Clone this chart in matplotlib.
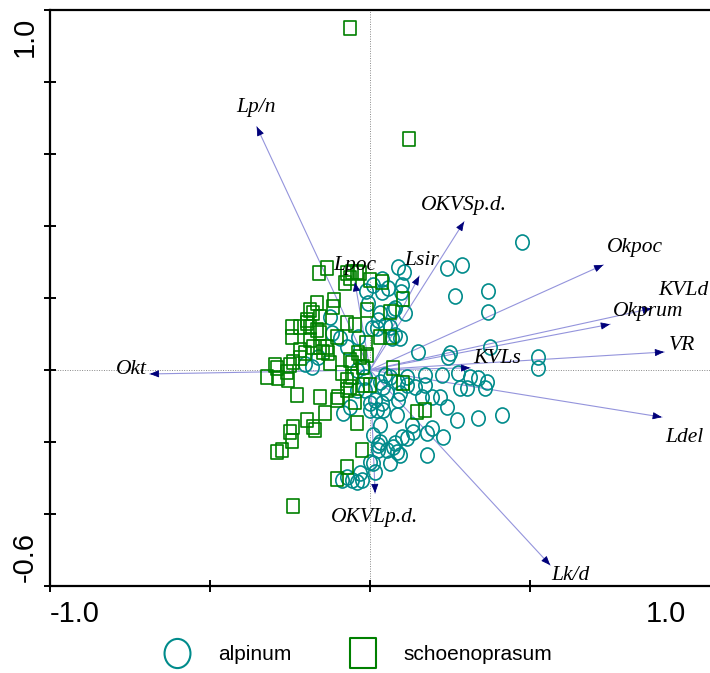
import matplotlib
matplotlib.use("Agg")
import matplotlib.pyplot as plt
from matplotlib.lines import Line2D
from matplotlib.path import Path
from matplotlib.transforms import Affine2D
import numpy as np

# ---------------- data ----------------
alpinum_x = [0.475, 0.241, 0.288, 0.088, 0.106, 0.038, 0.100, 0.369, 0.266, 0.056,
             -0.013, 0.009, 0.038, 0.078, 0.031, 0.025, 0.063, 0.094, 0.069, 0.022,
             0.006, -0.006, -0.125, -0.119, -0.094, -0.038, -0.072, -0.022, -0.041, -0.203,
             -0.163, -0.181, 0.369, 0.109, 0.072, 0.047, 0.078, 0.150, 0.250, 0.244,
             0.375, 0.525, 0.525, 0.047, 0.116, 0.172, 0.225, 0.275, 0.313, 0.338,
             0.366, 0.359, 0.281, 0.303, 0.172, 0.194, 0.219, 0.163, 0.241, 0.272,
             0.338, 0.413, 0.088, 0.038, 0.041, 0.084, 0.131, 0.194, 0.228, 0.178,
             0.100, 0.116, 0.078, 0.025, 0.053, 0.084, 0.094, 0.178, 0.031, 0.063,
             0.009, 0.016, -0.025, 0.000, -0.016, 0.000, 0.022, 0.134, 0.072, 0.031,
             0.009, 0.025, 0.000, -0.031, -0.072, -0.041, -0.088, -0.056, -0.016, 0.041,
             0.063, 0.088, 0.116, -0.084, 0.031, 0.141, 0.053, 0.094, 0.016, -0.041,
             -0.063, 0.097]
alpinum_y = [0.356, 0.283, 0.292, 0.286, 0.272, 0.253, 0.236, 0.219, 0.206, 0.228,
             0.219, 0.236, 0.217, 0.172, 0.158, 0.139, 0.119, 0.089, 0.089, 0.117,
             0.117, 0.186, 0.147, 0.103, 0.089, 0.092, 0.064, 0.008, 0.000, 0.017,
             0.036, 0.008, 0.161, 0.158, 0.167, 0.125, 0.097, 0.050, 0.047, 0.036,
             0.064, 0.036, 0.006, -0.014, -0.019, -0.014, -0.014, -0.008, -0.019, -0.022,
             -0.033, -0.050, -0.050, -0.050, -0.042, -0.075, -0.075, -0.075, -0.103, -0.139,
             -0.133, -0.125, -0.083, -0.092, -0.111, -0.125, -0.153, -0.161, -0.186, -0.175,
             -0.186, -0.189, -0.203, -0.208, -0.222, -0.228, -0.236, -0.236, -0.153, -0.258,
             -0.258, -0.283, -0.306, -0.111, -0.056, -0.092, -0.111, -0.172, -0.214, -0.200,
             -0.181, -0.222, -0.256, -0.286, -0.297, -0.311, -0.306, -0.306, -0.019, -0.047,
             -0.019, -0.033, -0.042, -0.119, -0.033, -0.047, -0.064, -0.064, -0.083, -0.056,
             -0.103, 0.217]

schoeno_x = [-0.063, 0.122, -0.241,
             -0.159, -0.134, -0.072, -0.056, -0.041, -0.078, -0.063, -0.031, 0.000, 0.038,
             0.103, -0.113, -0.166, -0.116, -0.009, -0.188, -0.197, -0.178, -0.156, -0.244,
             -0.219, -0.188, -0.166, -0.197, -0.244, -0.156, -0.103, -0.072, -0.047, 0.031,
             0.063, 0.063, -0.013, -0.188, -0.178, -0.156, -0.134, -0.219, -0.147, -0.131,
             -0.203, -0.219, -0.241, -0.250, -0.297, -0.291, -0.038, -0.009, -0.031, -0.056,
             -0.125, -0.063, -0.022, -0.322, -0.288, -0.259, -0.256, -0.228, -0.156, -0.100,
             -0.088, -0.056, -0.022, -0.072, -0.063, 0.072, 0.103, 0.000, -0.072, -0.103,
             -0.047, -0.141, -0.197, -0.178, -0.241, -0.250, -0.244, -0.172, -0.041, 0.147,
             0.172, -0.291, -0.275, -0.025, -0.072, -0.103]
schoeno_y = [0.950, 0.642, -0.378,
             0.269, 0.283, 0.269, 0.272, 0.272, 0.242, 0.256, 0.269, 0.250, 0.244,
             0.197, 0.194, 0.186, 0.175, 0.167, 0.167, 0.139, 0.158, 0.147, 0.119,
             0.119, 0.119, 0.111, 0.131, 0.092, 0.103, 0.092, 0.131, 0.125, 0.092,
             0.092, 0.161, 0.075, 0.083, 0.064, 0.064, 0.064, 0.056, 0.050, 0.047,
             0.047, 0.033, 0.022, 0.014, 0.014, 0.006, 0.047, 0.042, 0.036, 0.019,
             0.019, 0.028, 0.008, -0.019, -0.022, -0.006, -0.028, -0.069, -0.075, -0.075,
             -0.008, -0.019, -0.042, -0.028, -0.047, 0.006, -0.036, -0.042, -0.056, -0.083,
             -0.089, -0.119, -0.139, -0.158, -0.158, -0.172, -0.197, -0.167, -0.147, -0.117,
             -0.111, -0.228, -0.222, -0.222, -0.269, -0.303]

var_names = ["Lp/n", "Okt", "OKVSp.d.", "Okpoc", "KVLd", "Okprum", "VR",
             "KVLs", "Ldel", "Lk/d", "OKVLp.d.", "Lsir", "Lpoc"]
var_x = [-0.354, -0.688, 0.294, 0.729, 0.880, 0.750, 0.919,
         0.313, 0.912, 0.563, 0.016, 0.154, -0.047]
var_y = [0.676, -0.011, 0.412, 0.292, 0.171, 0.127, 0.050,
         0.006, -0.131, -0.542, -0.342, 0.261, 0.244]

group_labels = ["alpinum", "schoenoprasum"]
xaxis_end_labels = ["-1.0", "1.0"]
yaxis_end_labels = ["1.0", "-0.6"]

# ---------------- styling / layout ----------------
label_offsets = {"Lp/n": (-1, 19, "center"), "Okt": (-3, 4, "right"),
                 "OKVSp.d.": (0, 16, "center"), "Okpoc": (32, 17, "center"),
                 "KVLd": (32, 18, "center"), "Okprum": (38, 13, "center"),
                 "VR": (18, 7, "center"), "KVLs": (27, 9, "center"),
                 "Ldel": (23, -20, "center"), "Lk/d": (20, -10, "center"),
                 "OKVLp.d.": (-1, -24, "center"), "Lsir": (2, 16, "center"),
                 "Lpoc": (0, 17, "center")}

c_alp = "#008b8b"
c_sch = "#008000"
line_col = "#9494dc"
head_col = "#00007a"

# slightly tall markers (reference image is stretched vertically)
stretch = Affine2D().scale(1.0, 1.125)
ell_marker = stretch.transform_path(Path.unit_circle())
sq_marker = stretch.transform_path(Path.unit_rectangle().transformed(Affine2D().translate(-0.5, -0.5)))

fig = plt.figure(figsize=(7.10, 6.73), dpi=100)
ax = fig.add_axes([50/710, 87/673, 660/710, 576/673])
ax.set_xlim(-1.0, 1.0625)
ax.set_ylim(-0.6, 1.0)

ax.axhline(0, color="#888888", lw=0.7, ls=(0, (1, 1.5)), zorder=1)
ax.axvline(0, color="#888888", lw=0.7, ls=(0, (1, 1.5)), zorder=1)

for name, vx, vy in zip(var_names, var_x, var_y):
    ax.plot([0, vx], [0, vy], color=line_col, lw=0.8, zorder=2)
    ax.annotate("", xy=(vx, vy), xytext=(vx * 0.97, vy * 0.97),
                arrowprops=dict(arrowstyle="-|>,head_length=0.55,head_width=0.22",
                                color=head_col, lw=0.6, shrinkA=0, shrinkB=0),
                zorder=4)

ax.plot(alpinum_x, alpinum_y, ls="none", marker=ell_marker, ms=10.8, mfc="none",
        mec=c_alp, mew=1.2, zorder=3)
ax.plot(schoeno_x, schoeno_y, ls="none", marker=sq_marker, ms=10.3, mfc="none",
        mec=c_sch, mew=1.2, zorder=3)

for name, vx, vy in zip(var_names, var_x, var_y):
    dx, dy, ha = label_offsets[name]
    ax.annotate(name, xy=(vx, vy), xytext=(dx, dy), textcoords="offset pixels",
                ha=ha, va="center", fontsize=15.5, fontstyle="italic",
                family="Liberation Serif", color="black", zorder=5)

for s in ["left", "bottom", "top"]:
    ax.spines[s].set_linewidth(1.6)
ax.spines["right"].set_visible(False)
ax.set_xticks([-1.0, -0.5, 0.0, 0.5])
ax.set_yticks(np.round(np.arange(-0.6, 1.01, 0.2), 1))
ax.tick_params(direction="inout", length=8, width=1.4, labelbottom=False,
               labelleft=False)

tkw = dict(fontsize=21, family="Liberation Sans", color="black")
ax.annotate(xaxis_end_labels[0], xy=(-1.0, 0), xycoords=("data", "axes fraction"),
            xytext=(0, -14), textcoords="offset pixels", ha="left", va="top", **tkw)
ax.annotate(xaxis_end_labels[1], xy=(1.0, 0), xycoords=("data", "axes fraction"),
            xytext=(-4, -14), textcoords="offset pixels", ha="right", va="top", **tkw)
ax.annotate(yaxis_end_labels[0], xy=(0, 1.0), xycoords=("axes fraction", "data"),
            xytext=(-11, -7), textcoords="offset pixels", ha="right", va="top",
            rotation=90, **tkw)
ax.annotate(yaxis_end_labels[1], xy=(0, -0.6), xycoords=("axes fraction", "data"),
            xytext=(-11, 4), textcoords="offset pixels", ha="right", va="bottom",
            rotation=90, **tkw)

handles = [Line2D([], [], ls="none", marker=ell_marker, ms=21, mfc="none", mec=c_alp, mew=1.5),
           Line2D([], [], ls="none", marker=sq_marker, ms=21, mfc="none", mec=c_sch, mew=1.5)]
fig.legend(handles, group_labels, loc="center", bbox_to_anchor=(0.503, 0.027),
           ncol=2, frameon=False, prop=dict(family="Liberation Sans", size=15),
           handletextpad=1.2, columnspacing=2.7, handlelength=1.5)

fig.savefig("out.png", dpi=100)
